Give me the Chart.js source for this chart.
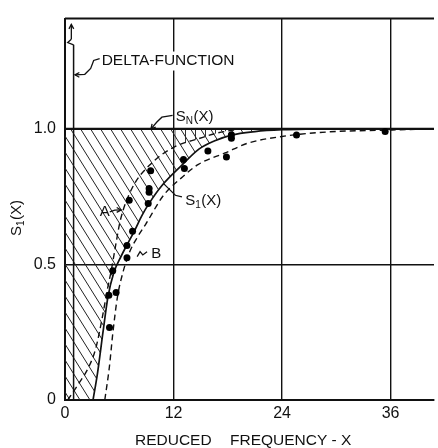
<!DOCTYPE html>
<html><head><meta charset="utf-8">
<script src="https://cdn.jsdelivr.net/npm/chart.js@4/dist/chart.umd.min.js"></script>
<style>html,body{margin:0;padding:0;background:#fff;}canvas{display:block;}</style>
</head><body>
<canvas id="c" width="438" height="448"></canvas>
<script>
// ---- data ----
const xTicks = [0, 12, 24, 36];
const xTickLabels = ['0', '12', '24', '36'];
const yTicks = [0, 0.5, 1.0];
const yTickLabels = ['0', '0.5', '1.0'];
const xMin = 0, xMax = 40.8, yMin = 0, yMax = 1.4065;

// S_N(X) : ideal (normal) response
const snX = [0, 40.8];
const snY = [1, 1];
// S_1(X) : solid curve
const s1X = [3.1, 3.6, 4.2, 4.75, 5.4, 6.2, 6.9, 7.7, 8.5, 9.3, 10.7, 12.9, 14.8, 16.5, 18.4, 21, 24, 28];
const s1Y = [0, 0.1, 0.25, 0.38, 0.47, 0.53, 0.575, 0.625, 0.68, 0.725, 0.79, 0.865, 0.925, 0.955, 0.977, 0.99, 0.997, 1.0];
// curve A (dashed, upper bound)
const aX = [0.3, 1.5, 2.6, 3.4, 4.1, 4.7, 5.1, 5.6, 6.1, 7.4, 9.6, 12.2, 14.8, 16.9, 19.5];
const aY = [0, 0.06, 0.12, 0.19, 0.3, 0.41, 0.475, 0.57, 0.66, 0.78, 0.874, 0.935, 0.964, 0.985, 1.0];
// curve B (dashed, lower bound)
const bX = [4.4, 4.9, 5.3, 5.8, 6.4, 7.2, 8.0, 8.9, 10.9, 12.9, 14.75, 17.7, 20.2, 23.8, 29.3, 35.2, 40.8];
const bY = [0, 0.12, 0.25, 0.38, 0.47, 0.55, 0.6, 0.647, 0.755, 0.82, 0.869, 0.911, 0.947, 0.971, 0.989, 0.995, 1.0];
// measured points
const dotX = [4.92, 4.85, 5.65, 5.28, 6.85, 6.85, 7.47, 7.1, 9.2, 9.3, 9.3, 9.47, 13.1, 13.2, 15.8, 17.85, 18.4, 18.4, 25.6, 35.4];
const dotY = [0.267, 0.386, 0.396, 0.477, 0.525, 0.57, 0.622, 0.737, 0.725, 0.766, 0.78, 0.845, 0.887, 0.854, 0.918, 0.896, 0.965, 0.978, 0.977, 0.99];
// delta function at low frequency
const deltaX = [0.95, 0.95];
const deltaY = [0, 1.31];

const pts = (xs, ys) => xs.map((x, i) => ({x, y: ys[i]}));

// hatch patterns
function diagPattern() {
  const c = document.createElement('canvas'); c.width = 10; c.height = 16;
  const g = c.getContext('2d');
  g.strokeStyle = '#222'; g.lineWidth = 1;
  g.beginPath();
  for (const dx of [-10, 0, 10]) { g.moveTo(dx - 1, -1.6); g.lineTo(dx + 11, 17.6); }
  g.stroke();
  return g.createPattern(c, 'repeat');
}
function vertPattern() {
  const c = document.createElement('canvas'); c.width = 10; c.height = 10;
  const g = c.getContext('2d');
  g.strokeStyle = '#333'; g.lineWidth = 1;
  g.beginPath(); g.moveTo(5.5, 0); g.lineTo(5.5, 10); g.stroke();
  return g.createPattern(c, 'repeat');
}
const ctx0 = document.getElementById('c').getContext('2d');

// hatched region boundary: zero from the axis to where S_1 starts, then S_1
const hatchPts = [{x: 0, y: 0}].concat(pts(s1X, s1Y));
const crossPts = pts(aX, aY).filter(p => p.x >= 12);

const FONT = '"Liberation Sans", Arial, sans-serif';

function subText(ctx, x, y, parts, size) {
  // parts: [text, isSub]
  let cx = x;
  for (const [t, sub] of parts) {
    ctx.font = (sub ? Math.round(size * 0.68) : size) + 'px ' + FONT;
    ctx.fillText(t, cx, y + (sub ? size * 0.3 : 0));
    cx += ctx.measureText(t).width + (sub ? 0.5 : 0);
  }
}
function subWidth(ctx, parts, size) {
  let w = 0;
  for (const [t, sub] of parts) {
    ctx.font = (sub ? Math.round(size * 0.68) : size) + 'px ' + FONT;
    w += ctx.measureText(t).width + (sub ? 0.5 : 0);
  }
  return w;
}

const annotations = {
  id: 'annot',
  afterDatasetsDraw(chart) {
    const {ctx, chartArea: a, scales: {x, y}} = chart;
    const X = v => x.getPixelForValue(v), Y = v => y.getPixelForValue(v);
    ctx.save();
    // top frame line
    ctx.strokeStyle = '#111'; ctx.lineWidth = 2;
    ctx.beginPath(); ctx.moveTo(a.left, a.top); ctx.lineTo(a.right, a.top); ctx.stroke();

    ctx.lineWidth = 1.3; ctx.strokeStyle = '#111';
    const poly = (p) => { ctx.beginPath(); p.forEach(([u, v], i) => i ? ctx.lineTo(X(u), Y(v)) : ctx.moveTo(X(u), Y(v))); ctx.stroke(); };
    const head = (u, v, ang) => { // open arrowhead at data point, ang = direction in radians (screen)
      const px = X(u), py = Y(v), L = 5;
      ctx.beginPath();
      ctx.moveTo(px - L * Math.cos(ang - 0.5), py - L * Math.sin(ang - 0.5));
      ctx.lineTo(px, py);
      ctx.lineTo(px - L * Math.cos(ang + 0.5), py - L * Math.sin(ang + 0.5));
      ctx.stroke();
    };
    // delta-function arrow to infinity
    poly([[0.7, 1.33], [0.7, 1.385]]);
    head(0.7, 1.385, -Math.PI / 2);
    poly([[0.7, 1.33], [0.3, 1.318], [0.95, 1.31]]);

    // DELTA-FUNCTION label (white box interrupts grid line)
    ctx.fillStyle = '#fff';
    ctx.fillRect(X(3.7), Y(1.285), X(19.2) - X(3.7), Y(1.215) - Y(1.285));
    ctx.fillStyle = '#111'; ctx.textBaseline = 'middle'; ctx.textAlign = 'left';
    ctx.font = '15.5px ' + FONT;
    ctx.fillText('DELTA-FUNCTION', X(4.05), Y(1.25));
    poly([[1.1, 1.199], [2.19, 1.201], [2.84, 1.223], [3.17, 1.252], [3.83, 1.259]]);
    head(1.1, 1.199, Math.PI);

    // S_N(X) label
    subText(ctx, X(12.24), Y(1.045), [['S', 0], ['N', 1], ['(X)', 0]], 15);
    poly([[9.51, 1.0], [10.16, 1.025], [10.71, 1.043], [11.9, 1.05]]);
    head(9.51, 1.0, Math.atan2(Y(1.0) - Y(1.025), X(9.51) - X(10.16)));

    // S_1(X) label
    subText(ctx, X(13.3), Y(0.733), [['S', 0], ['1', 1], ['(X)', 0]], 15);
    poly([[10.93, 0.797], [11.66, 0.773], [12.2, 0.755], [12.93, 0.749]]);

    // A label
    ctx.font = '15px ' + FONT;
    ctx.fillText('A', X(3.85), Y(0.692));
    poly([[4.95, 0.694], [5.5, 0.7], [6.2, 0.701]]);
    head(6.2, 0.701, 0);

    // B label
    ctx.fillText('B', X(9.55), Y(0.54));
    poly([[7.98, 0.529], [8.3, 0.547], [8.6, 0.535], [9.07, 0.547]]);

    // axis titles
    ctx.textAlign = 'left';
    ctx.font = '15.5px ' + FONT;
    ctx.fillText('REDUCED', 135, 441);
    ctx.fillText('FREQUENCY - X', 230, 441);
    ctx.save();
    ctx.translate(17, 218); ctx.rotate(-Math.PI / 2);
    const parts = [['S', 0], ['1', 1], ['(X)', 0]];
    const w = subWidth(ctx, parts, 15);
    subText(ctx, -w / 2, 0, parts, 15);
    ctx.restore();
    ctx.restore();
  }
};

const line = (data, extra) => Object.assign({
  data, showLine: true, pointRadius: 0, borderColor: '#111', backgroundColor: '#111',
  borderWidth: 1.5, fill: false, cubicInterpolationMode: 'monotone'
}, extra);

new Chart(ctx0, {
  type: 'scatter',
  data: {
    datasets: [
      {label: 'data', data: pts(dotX, dotY), pointRadius: 3.5, pointBackgroundColor: '#000', pointBorderWidth: 0, showLine: false},
      line(pts(s1X, s1Y), {label: 'S1(X)', borderWidth: 1.7}),
      line(pts(aX, aY), {label: 'A', borderDash: [6, 4], borderWidth: 1.4}),
      line(pts(bX, bY), {label: 'B', borderDash: [6, 4], borderWidth: 1.4}),
      line(pts(snX, snY), {label: 'SN(X)', borderWidth: 2.2}),
      line(pts(deltaX, deltaY), {label: 'delta', borderWidth: 1.5}),
      line(hatchPts, {label: 'hatch', borderWidth: 0, borderColor: 'rgba(0,0,0,0)', fill: {value: 1}, backgroundColor: diagPattern()}),
      line(crossPts, {label: 'cross', borderWidth: 0, borderColor: 'rgba(0,0,0,0)', fill: {value: 1}, backgroundColor: vertPattern()})
    ]
  },
  options: {
    responsive: false, animation: false, events: [],
    layout: {padding: {top: 9, right: 0, left: 0, bottom: 0}},
    plugins: {legend: {display: false}, tooltip: {enabled: false}},
    scales: {
      x: {
        type: 'linear', min: xMin, max: xMax,
        afterBuildTicks: s => { s.ticks = xTicks.map(v => ({value: v})); },
        afterFit: s => { s.height = 48; },
        ticks: {color: '#111', font: {family: FONT, size: 16}, padding: 4,
          callback: (v) => xTickLabels[xTicks.indexOf(v)] ?? ''},
        grid: {color: '#111', lineWidth: 1.4, drawTicks: false},
        border: {display: true, color: '#111', width: 2}
      },
      y: {
        type: 'linear', min: yMin, max: yMax,
        afterBuildTicks: s => { s.ticks = yTicks.map(v => ({value: v})); },
        afterFit: s => { s.width = 65; },
        ticks: {color: '#111', font: {family: FONT, size: 16}, padding: 9,
          callback: (v) => yTickLabels[yTicks.indexOf(v)] ?? ''},
        grid: {color: '#111', lineWidth: 1.4, drawTicks: false},
        border: {display: true, color: '#111', width: 2}
      }
    }
  },
  plugins: [annotations]
});
</script>
</body></html>
